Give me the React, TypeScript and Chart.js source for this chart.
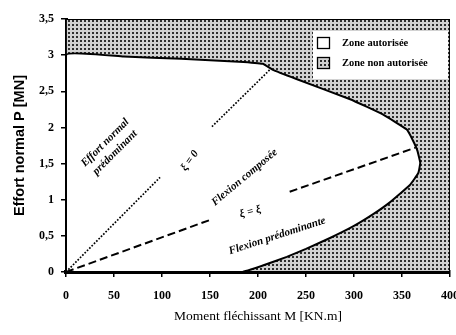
import React, { useEffect, useRef } from 'react';
import { Chart, registerables } from 'chart.js';

Chart.register(...registerables);

// Interaction diagram: allowed zone boundary (M in kN.m, P in MN)
const allowedM = [0, 0, 60, 120, 180, 205, 215, 240, 296, 330, 355, 361, 366, 369, 367, 358, 337, 320, 299, 275, 250, 230, 205, 183, 0];
const allowedP = [0, 3.0, 2.98, 2.95, 2.91, 2.88, 2.8, 2.67, 2.39, 2.18, 1.97, 1.83, 1.68, 1.51, 1.37, 1.2, 0.96, 0.8, 0.63, 0.47, 0.32, 0.21, 0.09, 0, 0];

// Whole diagram frame (non-allowed zone lies beneath the allowed zone)
const forbiddenM = [0, 400, 400, 0, 0];
const forbiddenP = [0, 0, 3.5, 3.5, 0];

// xi = 0 line (dotted, interrupted by its label)
const xi0LowM = [0, 98];
const xi0LowP = [0, 1.31];
const xi0HighM = [152, 214];
const xi0HighP = [2.01, 2.82];

// xi = xi_y line (dashed, interrupted by labels)
const xiYLowM = [0, 150];
const xiYLowP = [0, 0.72];
const xiYHighM = [233, 364];
const xiYHighP = [1.11, 1.72];

const xTickValues = [0, 50, 100, 150, 200, 250, 300, 350, 400];
const xTickLabels = ['0', '50', '100', '150', '200', '250', '300', '350', '400'];
const yTickValues = [0, 0.5, 1, 1.5, 2, 2.5, 3, 3.5];
const yTickLabels = ['0', '0,5', '1', '1,5', '2', '2,5', '3', '3,5'];

const legendLabels = ['Zone autorisée', 'Zone non autorisée'];

const annotations = [
  { lines: ['Effort normal', 'prédominant'], m: 46, p: 1.72, angle: -45 },
  { lines: ['ξ = 0'], m: 129, p: 1.54, angle: -55 },
  { lines: ['Flexion composée'], m: 186, p: 1.31, angle: -40 },
  { lines: ['ξ = ξ'], m: 192, p: 0.83, angle: -15 },
  { lines: ['Flexion prédominante'], m: 220, p: 0.5, angle: -18 },
];

const zip = (xs: number[], ys: number[]) => xs.map((x, i) => ({ x, y: ys[i] }));

function makeDotPattern(): CanvasPattern | string {
  const c = document.createElement('canvas');
  c.width = 4;
  c.height = 4;
  const g = c.getContext('2d');
  if (!g) return '#aaa';
  g.fillStyle = '#d2d2d2';
  g.fillRect(0, 0, 4, 4);
  g.fillStyle = '#2e2e2e';
  g.fillRect(0, 0, 2, 2);
  return g.createPattern(c, 'repeat') || '#aaa';
}

export default function App() {
  const ref = useRef<HTMLCanvasElement | null>(null);

  useEffect(() => {
    document.body.style.margin = '0';
    if (!ref.current) return;
    const pattern = makeDotPattern();

    const annotationPlugin = {
      id: 'zoneAnnotations',
      afterDatasetsDraw(chart: any) {
        const { ctx, scales } = chart;
        ctx.save();
        ctx.fillStyle = '#000';
        ctx.font = 'italic bold 11px "Liberation Serif"';
        ctx.textAlign = 'center';
        ctx.textBaseline = 'middle';
        annotations.forEach((a) => {
          const px = scales.x.getPixelForValue(a.m);
          const py = scales.y.getPixelForValue(a.p);
          ctx.save();
          ctx.translate(px, py);
          ctx.rotate((a.angle * Math.PI) / 180);
          const n = a.lines.length;
          a.lines.forEach((t, i) => {
            ctx.fillText(t, 0, (i - (n - 1) / 2) * 14);
          });
          ctx.restore();
        });
        ctx.restore();
      },
    };

    const legendPlugin = {
      id: 'zoneLegend',
      afterDraw(chart: any) {
        const { ctx, chartArea } = chart;
        const x0 = chartArea.right - 137;
        const y0 = chartArea.top + 12;
        ctx.save();
        ctx.fillStyle = '#fff';
        ctx.fillRect(x0, y0, 135, 48);
        legendLabels.forEach((lab, i) => {
          const sy = y0 + 6 + i * 20;
          ctx.fillStyle = i === 0 ? '#fff' : pattern;
          ctx.fillRect(x0 + 4, sy, 12, 11);
          ctx.strokeStyle = '#000';
          ctx.lineWidth = 1.3;
          ctx.strokeRect(x0 + 4.5, sy + 0.5, 12, 11);
          ctx.fillStyle = '#000';
          ctx.font = 'bold 10.5px "Liberation Serif"';
          ctx.textAlign = 'left';
          ctx.textBaseline = 'middle';
          ctx.fillText(lab, x0 + 29, sy + 6);
        });
        ctx.restore();
      },
    };

    const tickFont = { family: 'Liberation Serif', size: 12, weight: 'bold' as const };

    const chart = new Chart(ref.current, {
      type: 'scatter',
      data: {
        datasets: [
          {
            label: 'ξ = 0 (a)',
            data: zip(xi0LowM, xi0LowP),
            showLine: true,
            borderColor: '#000',
            borderWidth: 1.7,
            borderDash: [1.7, 1.6],
            pointRadius: 0,
            fill: false,
            order: 0,
          },
          {
            label: 'ξ = 0 (b)',
            data: zip(xi0HighM, xi0HighP),
            showLine: true,
            borderColor: '#000',
            borderWidth: 1.7,
            borderDash: [1.7, 1.6],
            pointRadius: 0,
            fill: false,
            order: 0,
          },
          {
            label: 'ξ = ξy (a)',
            data: zip(xiYLowM, xiYLowP),
            showLine: true,
            borderColor: '#000',
            borderWidth: 2,
            borderDash: [8, 4],
            pointRadius: 0,
            fill: false,
            order: 0,
          },
          {
            label: 'ξ = ξy (b)',
            data: zip(xiYHighM, xiYHighP),
            showLine: true,
            borderColor: '#000',
            borderWidth: 2,
            borderDash: [8, 4],
            pointRadius: 0,
            fill: false,
            order: 0,
          },
          {
            label: legendLabels[0],
            data: zip(allowedM, allowedP),
            showLine: true,
            borderColor: '#000',
            borderWidth: 2,
            backgroundColor: '#fff',
            fill: 'shape',
            tension: 0.1,
            pointRadius: 0,
            order: 1,
          },
          {
            label: legendLabels[1],
            data: zip(forbiddenM, forbiddenP),
            showLine: true,
            borderColor: '#000',
            borderWidth: 1.8,
            backgroundColor: pattern as any,
            fill: 'shape',
            pointRadius: 0,
            order: 2,
          },
        ],
      },
      options: {
        animation: false,
        responsive: false,
        maintainAspectRatio: false,
        layout: { padding: { left: 8, right: 0, top: 19, bottom: 0 } },
        plugins: {
          legend: { display: false },
          tooltip: { enabled: false },
        },
        scales: {
          x: {
            type: 'linear',
            position: 'bottom',
            min: 0,
            max: 400,
            z: 1,
            afterBuildTicks: (scale: any) => {
              scale.ticks = xTickValues.map((v) => ({ value: v }));
            },
            ticks: {
              color: '#000',
              font: tickFont,
              padding: 12,
              maxRotation: 0,
              callback: (v: any) => {
                const i = xTickValues.indexOf(Number(v));
                return i >= 0 ? xTickLabels[i] : '';
              },
            },
            grid: { drawOnChartArea: false, drawTicks: true, tickLength: 5, color: '#000', lineWidth: 1.5 },
            border: { display: true, color: '#000', width: 4 },
            title: {
              display: true,
              text: 'Moment fléchissant M [KN.m]',
              color: '#000',
              font: { family: 'Liberation Serif', size: 13.5 },
              padding: { top: 0, bottom: 10 },
            },
            afterFit: (scale: any) => {
              scale.height = 63;
              scale.paddingLeft = 0;
              scale.paddingRight = 6;
            },
          },
          y: {
            type: 'linear',
            min: 0,
            max: 3.5,
            z: 1,
            afterBuildTicks: (scale: any) => {
              scale.ticks = yTickValues.map((v) => ({ value: v }));
            },
            ticks: {
              color: '#000',
              font: tickFont,
              padding: 7,
              callback: (v: any) => {
                const i = yTickValues.findIndex((t) => Math.abs(t - Number(v)) < 1e-6);
                return i >= 0 ? yTickLabels[i] : '';
              },
            },
            grid: { drawOnChartArea: false, drawTicks: true, tickLength: 5, color: '#000', lineWidth: 1.5 },
            border: { display: true, color: '#000', width: 3 },
            title: {
              display: true,
              text: 'Effort normal P [MN]',
              color: '#000',
              font: { family: 'Liberation Sans', size: 14.5, weight: 'bold' },
              padding: { top: 3, bottom: 0 },
            },
            afterFit: (scale: any) => {
              scale.width = 58;
            },
          },
        },
      },
      plugins: [annotationPlugin, legendPlugin],
    });

    return () => chart.destroy();
  }, []);

  return (
    <div style={{ width: 456, height: 335 }}>
      <canvas ref={ref} width={456} height={335} />
    </div>
  );
}
